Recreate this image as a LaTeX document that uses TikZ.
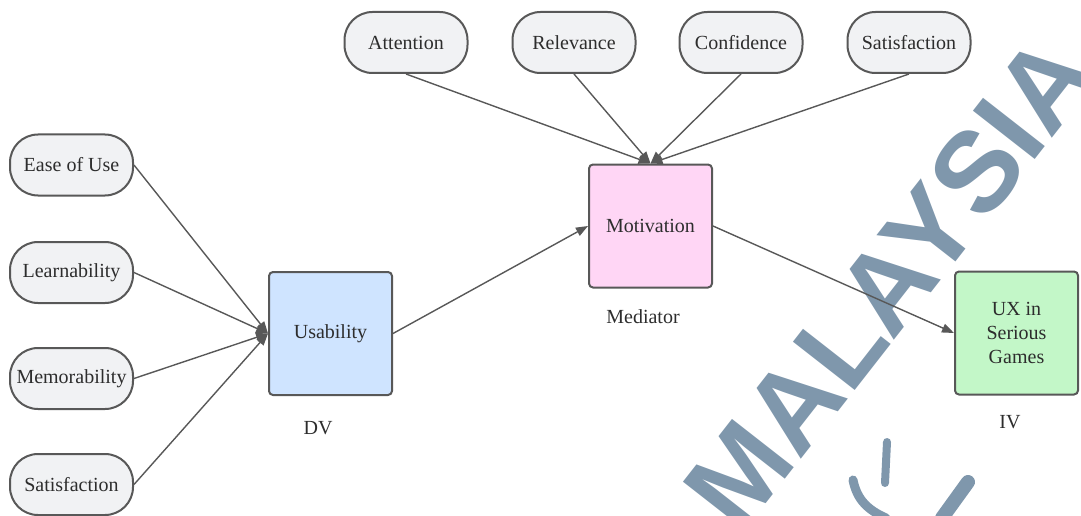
\documentclass[tikz,border=0pt]{standalone}
\usepackage{fontspec}
\setmainfont{Liberation Serif}
\newfontfamily\wmfont{Liberation Sans}
\usetikzlibrary{arrows.meta}

\definecolor{edgegray}{RGB}{88,88,88}
\definecolor{txtgray}{RGB}{45,45,45}
\definecolor{pillfill}{RGB}{241,242,244}
\definecolor{bluefill}{RGB}{207,228,255}
\definecolor{pinkfill}{RGB}{255,214,245}
\definecolor{greenfill}{RGB}{195,247,200}
\definecolor{wmblue}{RGB}{127,151,172}

\tikzset{
  pill/.style={draw=edgegray, line width=2pt, fill=pillfill, rounded corners=28pt,
    minimum width=123pt, minimum height=61pt, inner sep=0pt, text=txtgray,
    font=\rmfamily\fontsize{20}{24}\selectfont},
  varbox/.style={draw=edgegray, line width=2pt, rounded corners=4pt,
    minimum width=123pt, minimum height=123pt, inner sep=0pt, text=txtgray, align=center},
  caption/.style={text=txtgray, inner sep=0pt},
  link/.style={draw=edgegray, line width=1.4pt, -{Triangle[length=12pt,width=9pt]}},
  wmstroke/.style={draw=wmblue, line cap=round}
}

\begin{document}
\begin{tikzpicture}[x=1pt, y=-1pt, font=\rmfamily\fontsize{20}{24}\selectfont]
\useasboundingbox (0,0) rectangle (1081,516);

% background lettering
\node[rotate=52, text=wmblue, inner sep=0pt,
  font=\wmfont\bfseries\fontsize{114}{114}\selectfont] (wm) at (890,282) {MALAYSIA};
\draw[wmstroke, line width=8pt] (887,442) -- (885,483);
\draw[wmstroke, line width=9pt] (853,480) .. controls (857,500) and (868,510) .. (886,518);
\draw[wmstroke, line width=14pt] (968,482) -- (942,518);

% attribute nodes on the left
\node[pill] (ease)  at (71.5,165)   {Ease of Use};
\node[pill] (learn) at (71.5,272.5) {Learnability};
\node[pill] (memo)  at (71.5,378.5) {Memorability};
\node[pill] (satl)  at (71.5,484.5) {Satisfaction};

% ARCS attributes on top
\node[pill] (att)  at (406,42.5) {Attention};
\node[pill] (rel)  at (574,42.5) {Relevance};
\node[pill] (conf) at (741,42.5) {Confidence};
\node[pill] (satt) at (909,42.5) {Satisfaction};

% main variables
\node[varbox, fill=bluefill]  (usab) at (330.5,333.5) {Usability};
\node[varbox, fill=pinkfill]  (mot)  at (650.5,226)   {Motivation};
\node[varbox, fill=greenfill] (ux)   at (1016.5,333)  {UX in\\Serious\\Games};

\node[caption] (dv)  at (318,428) {DV};
\node[caption] (med) at (643,317) {Mediator};
\node[caption] (iv)  at (1010,422) {IV};

% connectors
\draw[link] (ease.east)  -- (usab.west);
\draw[link] (learn.east) -- (usab.west);
\draw[link] (memo.east)  -- (usab.west);
\draw[link] (satl.east)  -- (usab.west);

\draw[link] (att.south)  -- (mot.north);
\draw[link] (rel.south)  -- (mot.north);
\draw[link] (conf.south) -- (mot.north);
\draw[link] (satt.south) -- (mot.north);

\draw[link] (usab.east) -- (mot.west);
\draw[link] (mot.east)  -- (ux.west);
\end{tikzpicture}
\end{document}
